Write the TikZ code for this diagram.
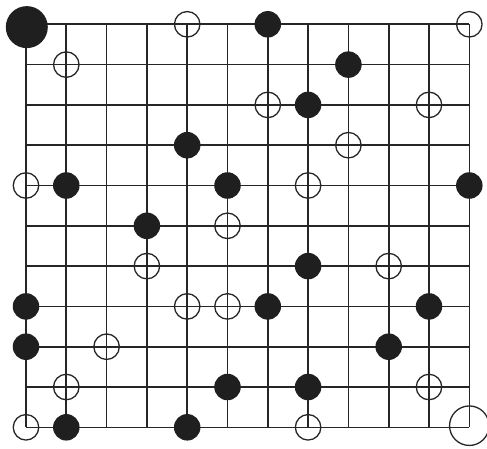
\documentclass[tikz,border=0pt]{standalone}
\usepackage{tikz}
\begin{document}
\begin{tikzpicture}[
  x=40.3pt, y=-40.3pt,
  gridline/.style={line width=1.6pt, draw=black!85},
  blackstone/.style={circle, fill=black!88, minimum size=26.5pt, inner sep=0pt},
  whitestone/.style={circle, draw=black!85, line width=1.3pt, minimum size=25.5pt, inner sep=0pt},
  bigblack/.style={blackstone, minimum size=42pt},
  bigwhite/.style={whitestone, minimum size=39.5pt}
]
\useasboundingbox (-0.645,-0.603) rectangle (11.439,10.514);
% board
\foreach \c in {0,...,11} \draw[gridline] (\c,0) -- (\c,10);
\foreach \r in {0,...,10} \draw[gridline] (0,\r) -- (11,\r);
% stones
\node[bigblack] (corner1) at (0.02,0.07) {};
\node[bigwhite] (corner2) at (11,9.96) {};
\foreach \c/\r [count=\i] in {6/0,8/1,7/2,4/3,1/4,5/4,11/4,3/5,7/6,0/7,6/7,10/7,0/8,9/8,5/9,7/9,1/10,4/10}
  \node[blackstone] (b\i) at (\c,\r) {};
\foreach \c/\r [count=\i] in {4/0,11/0,1/1,6/2,10/2,8/3,0/4,7/4,5/5,3/6,9/6,4/7,5/7,2/8,1/9,10/9,0/10,7/10}
  \node[whitestone] (w\i) at (\c,\r) {};
\end{tikzpicture}
\end{document}
